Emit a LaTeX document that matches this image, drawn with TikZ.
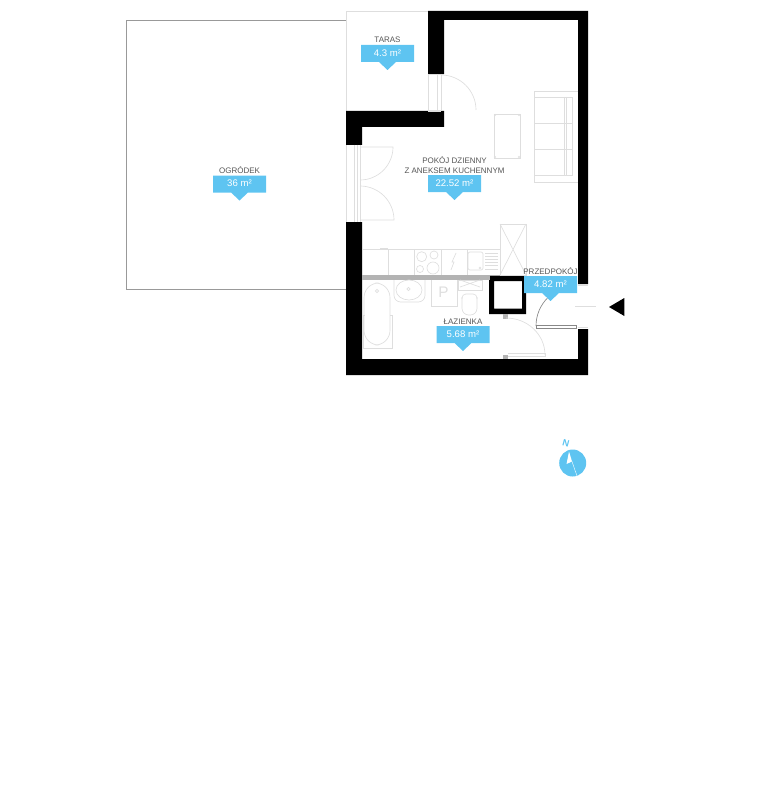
\documentclass[tikz,border=0pt]{standalone}
\usepackage{fontspec}
\setmainfont{Liberation Sans}
\definecolor{skyblue}{HTML}{5EC4F1}
\definecolor{wallgray}{HTML}{B3B3B3}
\definecolor{furngray}{HTML}{DEDEDE}
\definecolor{labelgray}{HTML}{555555}
\tikzset{
  wall/.style={fill=black, draw=none},
  outline/.style={draw=#1, line width=0.6pt},
  furn/.style={draw=furngray, line width=0.5pt},
  roomname/.style={text=labelgray, font=\fontsize{6}{6.75}\selectfont, align=center, inner sep=0pt},
  roomarea/.style={text=white, font=\fontsize{7.2}{8}\selectfont, inner sep=0pt},
  tagfill/.style={fill=skyblue, draw=none}
}
% one blue area tag: left x, top y, name, area
\newcommand{\areatag}[5]{
  \fill[tagfill] (#1,#2) -- ++(53,0) -- ++(0,17) -- ++(-18,0) -- ++(-8.5,8) -- ++(-8.5,-8) -- ++(-18,0) -- cycle;
  \node[roomarea] (#5area) at ({#1+26.5},{#2+8}) {#4};
  \node[roomname, anchor=base] (#5name) at ({#1+26.5},{#2-2}) {#3};
}
\begin{document}
\begin{tikzpicture}[x=0.75pt, y=-0.75pt]
    \useasboundingbox (0,0) rectangle (768,788);

    % Garden and terrace outlines
    \draw[outline=gray!80] (346,20) -- (126,20) -- (126,289) -- (346,289);
    \draw[outline=furngray] (428,11) -- (346,11) -- (346,111);

    % Load-bearing walls
    \fill[wall] (428,11) -- (588,11) -- (588,284) -- (578,284) -- (578,20) -- (444,20)
        -- (444,74) -- (428,74) -- cycle;
    \fill[wall] (346,111) -- (444,111) -- (444,127) -- (362,127) -- (362,145) -- (346,145) -- cycle;
    \fill[wall] (346,222) -- (362,222) -- (362,359) -- (578,359) -- (578,329) -- (588,329)
        -- (588,375) -- (346,375) -- cycle;

    % Shaft
    \fill[wall, even odd rule] (489,275.5) rectangle (526,314) (494,281) rectangle (522,308.5);

    % Counter edge
    \fill[wallgray] (362,275) rectangle (490,280);

    % Terrace door
    \draw[furn] (428,74) -- (428,111) (437,74) -- (437,111) (441,74) -- (441,111);
    \draw[furn] (428,74) -- (444,74) (428,111) -- (441,111);
    \draw[furn] (441,75) arc[start angle=-90, end angle=0, radius=35];

    % Garden double door
    \draw[furn] (346,145) -- (346,222) (354,145) -- (354,222) (357.5,145) -- (357.5,222) (360,145) -- (360,222);
    \draw[furn] (360,147) -- (393,147) arc[start angle=0, end angle=90, radius=33];
    \draw[furn] (360,220) -- (394,220) arc[start angle=0, end angle=-90, radius=34];

    % Table
    \draw[furn] (494,114) rectangle (520,158);
    \foreach \cx in {495,519} {
        \foreach \cy in {115,157} {
            \fill[furngray] (\cx,\cy) circle (1.2);
        }
    }

    % Sofa
    \draw[furn] (578,91) -- (534,91) -- (534,182) -- (578,182);
    \draw[furn] (534,97) rectangle (572,175);
    \draw[furn] (564,97) -- (564,175) (566,97) -- (566,175) (534,123) -- (572,123) (534,149) -- (572,149);

    % Kitchen units
    \draw[furn] (362,249) -- (500,249);
    \foreach \ux in {388,414,441,467} {
        \draw[furn] (\ux,249) -- (\ux,275);
    }
    \draw[furn] (380,249) -- (380,248) -- (388,248);

    % Hob
    \draw[furn] (421.7,256.7) circle (5) (434,255) circle (4) (420,269) circle (3.5) (433,268) circle (6);
    \draw[furn] (456,253) -- (452,262) -- (454,262) -- (451,270);

    % Sink
    \draw[furn, rounded corners=1.5pt] (468,252) rectangle (483,270);
    \draw[furn] (480,268) circle (1);
    \foreach \ly in {253,256.2,259.4,262.6,265.8,269} {
        \draw[furn] (485,\ly) -- (498,\ly);
    }

    % Fridge
    \draw[furn] (500,224) rectangle (526,275);
    \draw[furn] (500,224) -- (526,275) (526,224) -- (500,275);

    % Bath
    \draw[furn] (363,315) -- (363,348) -- (392,348) -- (392,315) (363,315) -- (365,315) (390,315) -- (392,315);
    \draw[furn, rounded corners=11pt] (364,283) rectangle (390,345);
    \draw[furn] (377,291) circle (1.6);

    % Wash basin
    \draw[furn, rounded corners=5pt] (394,280) -- (394,302) -- (425,302) -- (425,280);
    \draw[furn] (409,290) ellipse [x radius=13, y radius=10];
    \draw[furn] (408.5,289) circle (1.6);

    % Washing machine
    \draw[furn] (431,280) -- (431,306) -- (457,306) -- (457,280);
    \node[text=furngray, font=\fontsize{11.5}{12}\selectfont, inner sep=0pt] (machine) at (443.5,292) {P};

    % Toilet
    \draw[furn] (458,280) rectangle (482,290);
    \draw[furn] (460,280) -- (480,287) (480,280) -- (460,287);
    \draw[furn, rounded corners=5pt] (462,297) -- (462,315) -- (477,315) -- (477,297);
    \draw[furn, rounded corners=3pt] (462,299) -- (462,294) -- (477,294) -- (477,299);

    % Bathroom door
    \fill[wallgray] (503,313.5) rectangle (507.5,318.5);
    \fill[wallgray] (503,354.5) rectangle (507.5,359);
    \draw[furn] (508,353) -- (545,353) -- (545,356) -- (508,356);
    \draw[furn] (506,318) arc[start angle=-90, end angle=0, x radius=39, y radius=37];

    % Entrance door
    \draw[labelgray!70, line width=0.5pt] (536,325.5) rectangle (576,328);
    \draw[labelgray!70, line width=0.5pt] (536,326) arc[start angle=180, end angle=270, radius=40];
    \draw[furn] (578,285.5) -- (588,285.5) (578,327.5) -- (588,327.5);
    \draw[furn] (575,306.7) -- (596,306.7);

    % Entrance marker
    \fill[black] (609,307) -- (624.3,298) -- (624.3,316) -- cycle;

    % Room tags
    \areatag{361}{45}{TARAS}{4.3 m²}{taras}
    \areatag{428}{175}{POKÓJ DZIENNY\\Z ANEKSEM KUCHENNYM}{22.52 m²}{pokoj}
    \areatag{213}{175.5}{OGRÓDEK}{36 m²}{ogrodek}
    \areatag{436.5}{326}{ŁAZIENKA}{5.68 m²}{lazienka}
    \areatag{524}{276}{PRZEDPOKÓJ}{4.82 m²}{przedpokoj}

    % Compass
    \fill[skyblue] (572.7,463) circle (13.5);
    \fill[white] (569,451.5) -- (566.5,464) -- (572,461.5) -- cycle;
    \draw[white, line width=0.3pt] (572,461.5) -- (577,476);
    \node[text=skyblue, font=\fontsize{7}{7}\bfseries\selectfont, rotate=-15, inner sep=0pt] (north) at (566,443) {N};
\end{tikzpicture}
\end{document}
